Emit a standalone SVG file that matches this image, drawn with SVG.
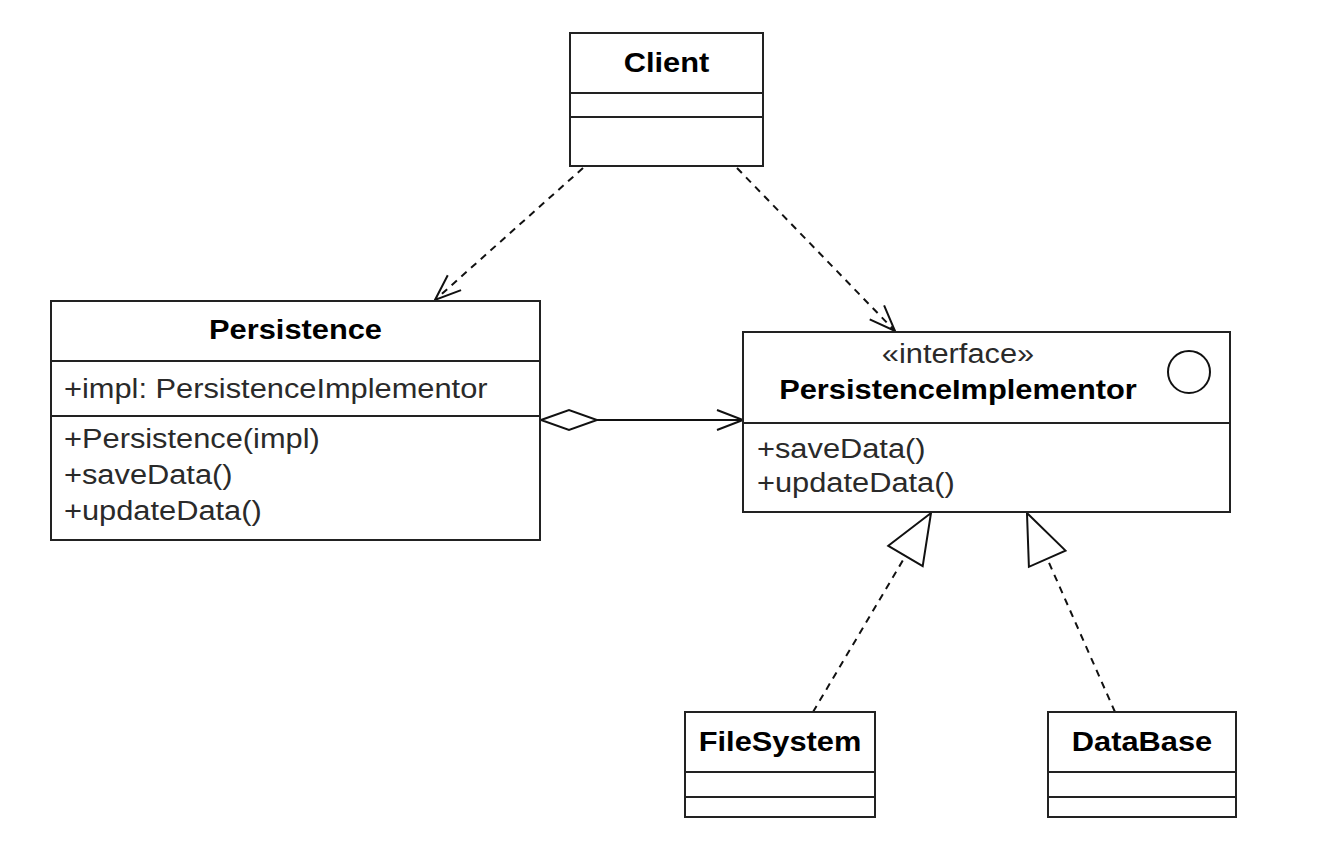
<svg xmlns="http://www.w3.org/2000/svg" width="1338" height="861" viewBox="0 0 1338 861">
<style>
.box{fill:#fff;stroke:#222;stroke-width:2}
.sep{stroke:#222;stroke-width:2}
.t{font-family:"Liberation Sans",Arial,Helvetica,sans-serif;font-size:28px;fill:#2a2a2a}
.b{font-weight:bold;fill:#000}
.c{text-anchor:middle}
.ln{fill:none;stroke:#111;stroke-width:2}
.dash{stroke-dasharray:7 6}
</style>
<defs>
<marker id="open" markerUnits="userSpaceOnUse" orient="auto" overflow="visible" refX="0" refY="0" markerWidth="40" markerHeight="40" viewBox="-40 -20 40 40">
<path d="M-26,-10 L0,0 L-26,10" fill="none" stroke="#111" stroke-width="2"/>
</marker>
<marker id="tri" markerUnits="userSpaceOnUse" orient="auto" overflow="visible" refX="0" refY="0" markerWidth="60" markerHeight="60" viewBox="0 -30 60 60">
<path d="M0,-20 L50,0 L0,20 Z" fill="#fff" stroke="#111" stroke-width="2"/>
</marker>
<marker id="dia" markerUnits="userSpaceOnUse" orient="auto" overflow="visible" refX="0" refY="0" markerWidth="60" markerHeight="30" viewBox="0 -15 60 30">
<path d="M0,0 L28,-10 L56,0 L28,10 Z" fill="#fff" stroke="#111" stroke-width="2"/>
</marker>
</defs>
<rect width="1338" height="861" fill="#fff"/>
<g id="connectors">
<path class="ln dash" d="M583,168 L435,300" marker-end="url(#open)"/>
<path class="ln dash" d="M737,168 L895,331" marker-end="url(#open)"/>
<path class="ln" d="M541,420 L743,420" marker-start="url(#dia)" marker-end="url(#open)"/>
<path class="ln dash" d="M813,712 L905.5,556" marker-end="url(#tri)"/>
<path class="ln dash" d="M1115,712 L1047.2,558.7" marker-end="url(#tri)"/>
</g>
<g id="client">
<rect class="box" x="570" y="33" width="193" height="133"/>
<line class="sep" x1="570" y1="93" x2="763" y2="93"/>
<line class="sep" x1="570" y1="117" x2="763" y2="117"/>
<text class="t b c" transform="translate(666.5,72) scale(1.1,1)">Client</text>
</g>
<g id="persistence">
<rect class="box" x="51" y="301" width="489" height="239"/>
<line class="sep" x1="51" y1="361" x2="540" y2="361"/>
<line class="sep" x1="51" y1="416" x2="540" y2="416"/>
<text class="t b c" transform="translate(295.5,339) scale(1.1,1)">Persistence</text>
<text class="t" transform="translate(64,398) scale(1.1,1)">+impl: PersistenceImplementor</text>
<text class="t" transform="translate(64,448) scale(1.1,1)">+Persistence(impl)</text>
<text class="t" transform="translate(64,484) scale(1.1,1)">+saveData()</text>
<text class="t" transform="translate(64,520) scale(1.1,1)">+updateData()</text>
</g>
<g id="persistenceImplementor">
<rect class="box" x="743" y="332" width="487" height="180"/>
<line class="sep" x1="743" y1="423" x2="1230" y2="423"/>
<circle cx="1189" cy="372" r="21" fill="none" stroke="#111" stroke-width="2"/>
<text class="t c" transform="translate(958,363) scale(1.1,1)">«interface»</text>
<text class="t b c" transform="translate(958,399) scale(1.1,1)">PersistenceImplementor</text>
<text class="t" transform="translate(757,458) scale(1.1,1)">+saveData()</text>
<text class="t" transform="translate(757,492) scale(1.1,1)">+updateData()</text>
</g>
<g id="fileSystem">
<rect class="box" x="685" y="712" width="190" height="105"/>
<line class="sep" x1="685" y1="772" x2="875" y2="772"/>
<line class="sep" x1="685" y1="797" x2="875" y2="797"/>
<text class="t b c" transform="translate(780,751) scale(1.1,1)">FileSystem</text>
</g>
<g id="dataBase">
<rect class="box" x="1048" y="712" width="188" height="105"/>
<line class="sep" x1="1048" y1="772" x2="1236" y2="772"/>
<line class="sep" x1="1048" y1="797" x2="1236" y2="797"/>
<text class="t b c" transform="translate(1142,751) scale(1.1,1)">DataBase</text>
</g>
</svg>
